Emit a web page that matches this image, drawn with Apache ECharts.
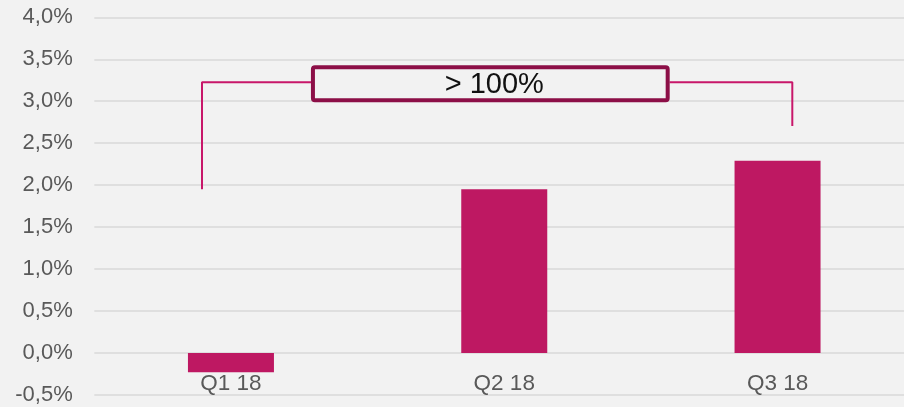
<!DOCTYPE html>
<html>
<head>
<meta charset="utf-8">
<script src="https://cdn.jsdelivr.net/npm/echarts@6/dist/echarts.min.js"></script>
<style>
  html, body { margin: 0; padding: 0; background: #f2f2f2; }
  #chart { width: 904px; height: 407px; }
</style>
</head>
<body>
<div id="chart"></div>
<script>
// ---- data ----
const categories = ['Q1 18', 'Q2 18', 'Q3 18'];
const values = [-0.23, 1.95, 2.29];           // percent
const yMin = -0.5, yMax = 4.0, yStep = 0.5;   // y ticks
// callout bracket in data units (x: category index space 0..3, y: percent)
const bracketLeft = [[0.394, 1.95], [0.394, 3.225], [0.795, 3.225]];
const bracketRight = [[2.105, 3.225], [2.554, 3.225], [2.554, 2.705]];
const calloutBox = [[0.80, 3.405, 2.098, 3.012]];
const calloutText = '> 100%';

const chart = echarts.init(document.getElementById('chart'), null, { renderer: 'canvas' });
const FONT = '"Liberation Sans", Arial, sans-serif';

const gridTop = 17.3, gridBottom = 12, H = 407;
const plotH = H - gridTop - gridBottom;
// move category axis up to the zero line
const zeroOffset = -((0 - yMin) / (yMax - yMin)) * plotH;

chart.setOption({
  backgroundColor: '#f2f2f2',
  animation: false,
  grid: { left: 94.3, right: -10.2, top: gridTop, bottom: gridBottom, containLabel: false, outerBoundsMode: 'none' },
  xAxis: [
    {
      type: 'category',
      data: categories,
      position: 'bottom',
      offset: zeroOffset,
      axisLine: { show: false, onZero: false },
      axisTick: { show: false },
      axisLabel: { color: '#595959', fontSize: 22.5, fontFamily: FONT, margin: 19 },
      splitLine: { show: false }
    },
    {
      type: 'value', min: 0, max: 3, show: false,
      axisLine: { onZero: false }
    }
  ],
  yAxis: {
    type: 'value',
    min: yMin, max: yMax, interval: yStep,
    axisLine: { show: false, onZero: false },
    axisTick: { show: false },
    axisLabel: {
      color: '#595959', fontSize: 22, fontFamily: FONT, margin: 21.6,
      formatter: v => v.toFixed(1).replace('.', ',') + '%'
    },
    splitLine: { lineStyle: { color: '#d9d9d9', width: 1.5 } }
  },
  series: [
    {
      type: 'bar',
      data: values,
      barWidth: 86,
      itemStyle: { color: '#BE1862' },
      z: 2
    },
    {
      type: 'line', xAxisIndex: 1, data: bracketLeft,
      symbol: 'none', lineStyle: { color: '#C8176A', width: 2 }, z: 3
    },
    {
      type: 'line', xAxisIndex: 1, data: bracketRight,
      symbol: 'none', lineStyle: { color: '#C8176A', width: 2 }, z: 3
    },
    {
      type: 'custom', xAxisIndex: 1, data: calloutBox, z: 4,
      renderItem: function (params, api) {
        const p0 = api.coord([api.value(0), api.value(1)]);
        const p1 = api.coord([api.value(2), api.value(3)]);
        return {
          type: 'group',
          children: [
            {
              type: 'rect',
              shape: { x: p0[0], y: p0[1], width: p1[0] - p0[0], height: p1[1] - p0[1], r: 2 },
              style: { fill: '#f2f2f2', stroke: '#8C0F47', lineWidth: 4 }
            },
            {
              type: 'text',
              style: {
                text: calloutText, x: (p0[0] + p1[0]) / 2 + 4, y: (p0[1] + p1[1]) / 2 + 1,
                align: 'center', verticalAlign: 'middle',
                fill: '#111', font: '29px ' + FONT
              }
            }
          ]
        };
      }
    }
  ]
});
</script>
</body>
</html>
